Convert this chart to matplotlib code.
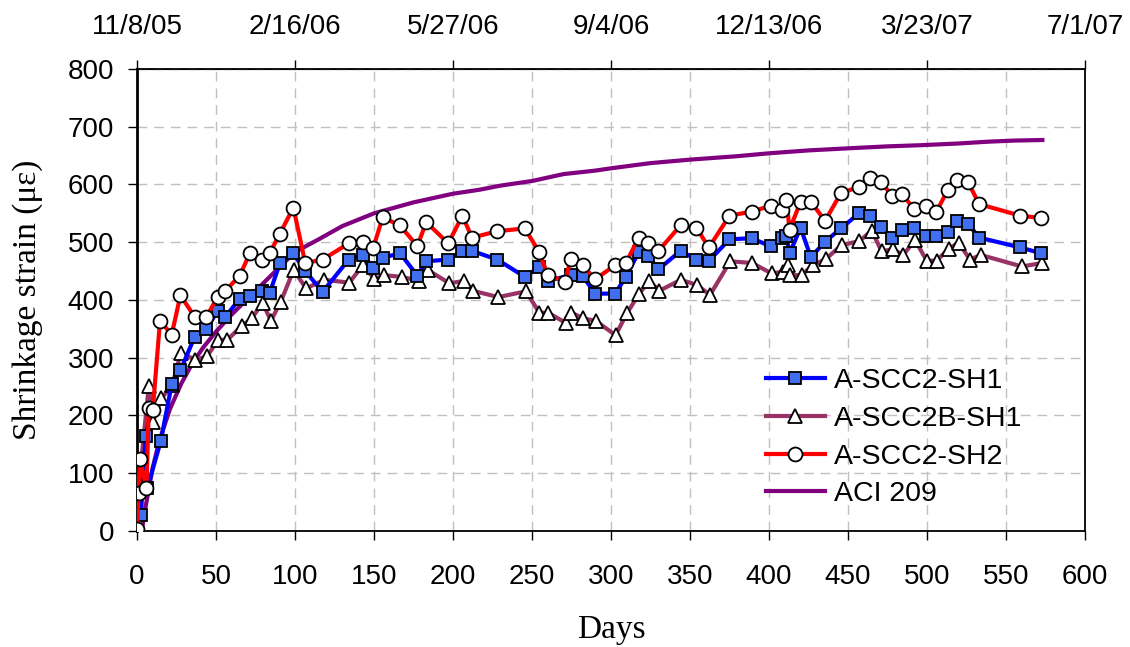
import matplotlib
matplotlib.use("Agg")
import matplotlib.pyplot as plt
import numpy as np

# data (days since 11/8/05, strain in microstrain)
sh1_days = [0, 1, 2.5, 5.5, 6.5, 15, 22, 27.5, 36.5, 44, 51, 56, 65, 71.5, 79, 84,
            90.5, 99, 106.5, 117.5, 134, 143, 149.5, 155.5, 166.5, 177.5, 183, 197,
            206, 212, 228, 245.5, 254.5, 260, 274.5, 282, 290, 302.5, 309.5, 317.5,
            323.5, 330, 344, 354, 362, 375, 389, 401, 408.5, 411, 413, 420, 426.5,
            435.5, 445.5, 457, 464, 471, 478, 484, 492, 499.5, 506, 513, 519, 526,
            533, 559, 572]
sh1_vals = [0, 78, 28, 164, 74, 155, 254, 278, 336, 350, 381, 371, 402, 407, 416, 412,
            464, 481, 450, 414, 470, 478, 456, 473, 481, 442, 467, 470,
            485, 485, 470, 440, 457, 433, 443, 442, 411, 411, 440, 483,
            476, 453, 485, 470, 468, 505, 507, 493, 508, 510, 481, 525, 474,
            501, 524, 550, 545, 526, 508, 522, 525, 511, 511, 518, 536, 532,
            508, 491, 481]

scc2b_days = [0, 1, 7.5, 10, 15.5, 22.3, 27.8, 37, 44.5, 51.5, 57.2, 66.3, 72.6, 79.5,
              84.8, 91, 99.2, 107, 118.5, 134.4, 143.2, 150.2, 156.3, 167.5, 178.7,
              184, 197.7, 207.2, 212.5, 228.7, 246.2, 254.6, 260.3, 271.5, 275,
              282.5, 290.3, 302.9, 310.3, 317.9, 324.2, 330.6, 344.3, 354.2, 362.7,
              375.5, 389.4, 401.6, 409, 412.2, 413.3, 420.6, 427.6, 436, 445.9,
              457.2, 465, 471.3, 478.3, 485, 492.4, 499.8, 506.1, 513.7, 520,
              527.2, 534, 560, 572.8]
scc2b_vals = [0, 75, 251, 189, 230, 252, 309, 296, 303, 331, 331, 355, 368, 395,
              364, 397, 452, 420, 435, 430, 461, 436, 443, 440, 433,
              452, 429, 433, 416, 405, 415, 378, 378, 360, 378,
              368, 364, 339, 378, 411, 433, 416, 435, 426, 409,
              467, 464, 446, 449, 460, 443, 443, 460, 471, 495,
              502, 520, 484, 488, 478, 504, 468, 468, 489, 499,
              470, 478, 458, 464]

sh2_days = [0, 1, 2, 6, 7.5, 10, 14.6, 22, 27.5, 36.5, 44, 51, 56, 65, 71.5, 79, 84,
            90.5, 99, 106.5, 117.5, 134, 143, 149.5, 155.5, 166.5, 177.5, 183, 197,
            206, 212, 228, 245.5, 254.5, 260, 271, 274.5, 282, 290, 302.5, 309.5,
            317.5, 323.5, 330, 344, 354, 362, 375, 389, 401, 408.5, 411, 413, 420,
            426.5, 435.5, 445.5, 457, 464, 471, 478, 484, 492, 499.5, 506, 513,
            519, 526, 533, 559, 572]
sh2_vals = [3, 65, 124, 74, 213, 209, 364, 340, 408, 371, 371, 405, 416, 442, 481, 469, 481,
            515, 560, 464, 470, 498, 501, 490, 543, 529, 493, 535, 498,
            546, 508, 519, 524, 483, 443, 432, 471, 460, 436, 460, 464,
            508, 498, 485, 529, 525, 491, 546, 553, 563, 556, 573, 522, 570,
            570, 537, 585, 596, 612, 604, 580, 584, 557, 563, 553, 590,
            608, 604, 566, 546, 542]

aci_days = [3, 5, 7, 10, 14, 21, 28, 35, 42, 50, 60, 70, 84, 100, 115, 130, 150, 175,
            200, 217, 230, 250, 270, 290, 300, 325, 350, 365, 380, 400, 425, 453,
            475, 496, 520, 538, 555, 573]
aci_vals = [0, 35, 65, 110, 155, 212, 255, 290, 318, 345, 375, 402, 440, 483, 505, 528,
            550, 569, 584, 591, 598, 606, 618, 624, 628, 637, 643, 646, 649, 654, 659,
            663, 666, 668, 671, 674, 676, 677]

x_ticks = list(range(0, 601, 50))
y_ticks = list(range(0, 801, 100))
top_ticks = list(range(0, 601, 100))
top_labels = ["11/8/05", "2/16/06", "5/27/06", "9/4/06", "12/13/06", "3/23/07", "7/1/07"]

plt.rcParams["font.family"] = ["Liberation Sans", "DejaVu Sans"]

fig = plt.figure(figsize=(11.3, 6.47), dpi=100)
ax = fig.add_axes([0.1212, 0.1793, 0.8390, 0.7141])

ax.plot(aci_days, aci_vals, color="#800080", lw=3, zorder=2, label="ACI 209")
ax.plot(scc2b_days, scc2b_vals, color="#993366", lw=3, marker="^", ms=9.5,
        mfc="white", mec="black", mew=1.3, zorder=3, label="A-SCC2B-SH1")
ax.plot(sh1_days, sh1_vals, color="#0000FF", lw=3, marker="s", ms=8,
        mfc="#3F6FEF", mec="black", mew=1.3, zorder=4, label="A-SCC2-SH1")
ax.plot(sh2_days, sh2_vals, color="#FF0000", lw=3, marker="o", ms=10,
        mfc="white", mec="black", mew=1.3, zorder=5, label="A-SCC2-SH2")

ax.set_xlim(0, 600)
ax.set_ylim(0, 800)
ax.set_xticks(x_ticks)
ax.set_yticks(y_ticks)
ax.tick_params(direction="out", length=6.5, width=1, labelsize=20)
ax.tick_params(axis="x", pad=17)
ax.tick_params(axis="y", pad=10)
ax.grid(True, color="#C0C0C0", ls=(0, (7, 5)), lw=1)
ax.set_axisbelow(True)
for s in ax.spines.values():
    s.set_linewidth(1.3)
ax.spines["left"].set_linewidth(2)

top = ax.secondary_xaxis("top")
top.set_xticks(top_ticks, labels=top_labels)
top.tick_params(direction="out", length=6.5, width=1, labelsize=20, pad=14)

ax.set_xlabel("Days", family="Liberation Serif", fontsize=24, labelpad=18)
ax.set_ylabel("Shrinkage strain (\u03bc\u03b5)", family="Liberation Serif", fontsize=24,
              labelpad=18)

h, l = ax.get_legend_handles_labels()
order = [2, 1, 3, 0]
ax.legend([h[i] for i in order], [l[i] for i in order], loc="center left",
          bbox_to_anchor=(0.636, 0.202), frameon=False, fontsize=20.5,
          handlelength=2.1, labelspacing=0.41, handletextpad=0.3)

fig.savefig("out.png", dpi=100)
